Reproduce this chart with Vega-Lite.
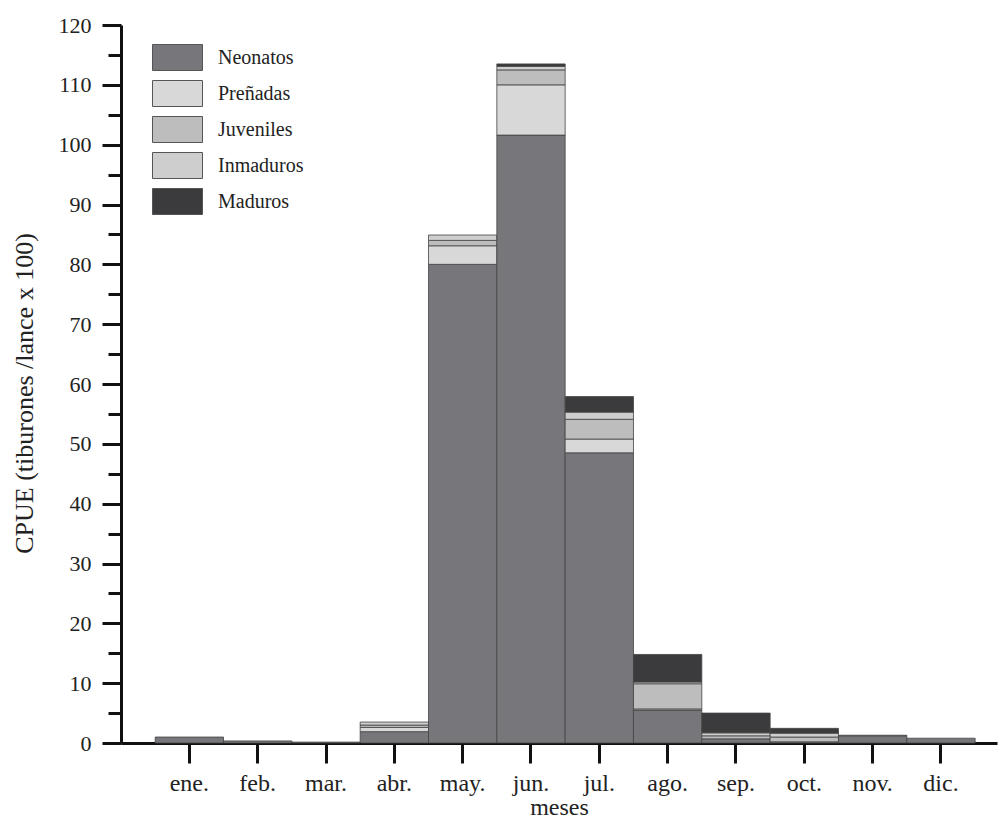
{
  "$schema": "https://vega.github.io/schema/vega-lite/v6.json",
  "width": 876,
  "height": 718,
  "autosize": "none",
  "padding": {"left": 121, "top": 25, "right": 3, "bottom": 79},
  "background": "white",
  "config": {
    "view": {"stroke": null},
    "font": "Liberation Serif",
    "axis": {"labelFont": "Liberation Serif", "titleFont": "Liberation Serif", "labelColor": "#222", "titleColor": "#222", "domainColor": "#111", "tickColor": "#111", "grid": false}
  },
  "data": {
    "values": [
      {"mes": "ene.", "clase": "Neonatos", "orden": 1, "cpue": 1.0},
      {"mes": "feb.", "clase": "Neonatos", "orden": 1, "cpue": 0.35},
      {"mes": "mar.", "clase": "Neonatos", "orden": 1, "cpue": 0.15},
      {"mes": "abr.", "clase": "Neonatos", "orden": 1, "cpue": 1.9},
      {"mes": "abr.", "clase": "Preñadas", "orden": 2, "cpue": 0.7},
      {"mes": "abr.", "clase": "Juveniles", "orden": 3, "cpue": 0.4},
      {"mes": "abr.", "clase": "Inmaduros", "orden": 4, "cpue": 0.5},
      {"mes": "may.", "clase": "Neonatos", "orden": 1, "cpue": 80.0},
      {"mes": "may.", "clase": "Preñadas", "orden": 2, "cpue": 3.1},
      {"mes": "may.", "clase": "Juveniles", "orden": 3, "cpue": 0.9},
      {"mes": "may.", "clase": "Inmaduros", "orden": 4, "cpue": 0.9},
      {"mes": "jun.", "clase": "Neonatos", "orden": 1, "cpue": 101.6},
      {"mes": "jun.", "clase": "Preñadas", "orden": 2, "cpue": 8.4},
      {"mes": "jun.", "clase": "Juveniles", "orden": 3, "cpue": 2.5},
      {"mes": "jun.", "clase": "Inmaduros", "orden": 4, "cpue": 0.6},
      {"mes": "jun.", "clase": "Maduros", "orden": 5, "cpue": 0.4},
      {"mes": "jul.", "clase": "Neonatos", "orden": 1, "cpue": 48.5},
      {"mes": "jul.", "clase": "Preñadas", "orden": 2, "cpue": 2.3},
      {"mes": "jul.", "clase": "Juveniles", "orden": 3, "cpue": 3.3},
      {"mes": "jul.", "clase": "Inmaduros", "orden": 4, "cpue": 1.2},
      {"mes": "jul.", "clase": "Maduros", "orden": 5, "cpue": 2.6},
      {"mes": "ago.", "clase": "Neonatos", "orden": 1, "cpue": 5.5},
      {"mes": "ago.", "clase": "Preñadas", "orden": 2, "cpue": 0.2},
      {"mes": "ago.", "clase": "Juveniles", "orden": 3, "cpue": 4.2},
      {"mes": "ago.", "clase": "Inmaduros", "orden": 4, "cpue": 0.3},
      {"mes": "ago.", "clase": "Maduros", "orden": 5, "cpue": 4.6},
      {"mes": "sep.", "clase": "Neonatos", "orden": 1, "cpue": 0.7},
      {"mes": "sep.", "clase": "Juveniles", "orden": 3, "cpue": 0.5},
      {"mes": "sep.", "clase": "Inmaduros", "orden": 4, "cpue": 0.5},
      {"mes": "sep.", "clase": "Maduros", "orden": 5, "cpue": 3.3},
      {"mes": "oct.", "clase": "Neonatos", "orden": 1, "cpue": 0.2},
      {"mes": "oct.", "clase": "Juveniles", "orden": 3, "cpue": 0.8},
      {"mes": "oct.", "clase": "Inmaduros", "orden": 4, "cpue": 0.65},
      {"mes": "oct.", "clase": "Maduros", "orden": 5, "cpue": 0.8},
      {"mes": "nov.", "clase": "Neonatos", "orden": 1, "cpue": 1.2},
      {"mes": "nov.", "clase": "Preñadas", "orden": 2, "cpue": 0.1},
      {"mes": "dic.", "clase": "Neonatos", "orden": 1, "cpue": 0.8}
    ]
  },
  "mark": {"type": "bar", "stroke": "#444", "strokeWidth": 0.8},
  "encoding": {
    "x": {
      "field": "mes",
      "type": "nominal",
      "scale": {"domain": ["ene.", "feb.", "mar.", "abr.", "may.", "jun.", "jul.", "ago.", "sep.", "oct.", "nov.", "dic."], "paddingInner": 0, "paddingOuter": 0.41, "align": 0.61},
      "axis": {"title": "meses", "labelAngle": 0, "labelFontSize": 24, "titleFontSize": 24, "titleFontWeight": "normal", "tickSize": 20, "tickWidth": 3, "domainWidth": 3, "labelPadding": 8, "titlePadding": 0}
    },
    "y": {
      "field": "cpue",
      "type": "quantitative",
      "stack": "zero",
      "scale": {"domain": [0, 120], "nice": false},
      "axis": {
        "title": "CPUE (tiburones /lance x 100)",
        "values": [0, 5, 10, 15, 20, 25, 30, 35, 40, 45, 50, 55, 60, 65, 70, 75, 80, 85, 90, 95, 100, 105, 110, 115, 120],
        "labelExpr": "datum.value % 10 === 0 ? datum.label : ''",
        "tickSize": {"condition": {"test": "datum.value % 10 === 0", "value": 19}, "value": 13},
        "tickWidth": 3,
        "domainWidth": 3,
        "labelFontSize": 22,
        "titleFontSize": 26,
        "titleFontWeight": "normal",
        "labelPadding": 11,
        "titlePadding": 21,
        "titleY": 368
      }
    },
    "color": {
      "field": "clase",
      "type": "nominal",
      "scale": {"domain": ["Neonatos", "Preñadas", "Juveniles", "Inmaduros", "Maduros"], "range": ["#77777b", "#d8d8d8", "#bdbdbd", "#cecece", "#3b3b3d"]},
      "legend": {
        "title": null,
        "orient": "none",
        "legendX": 46,
        "legendY": 22,
        "symbolType": "M-2.5,-1.3H2.5V1.3H-2.5Z",
        "symbolSize": 400,
        "symbolStrokeColor": "#555",
        "symbolStrokeWidth": 1,
        "symbolOpacity": 1,
        "labelFont": "Liberation Serif",
        "labelFontSize": 20,
        "labelColor": "#222",
        "labelOffset": 30,
        "rowPadding": 5
      }
    },
    "order": {"field": "orden", "type": "quantitative"}
  }
}
